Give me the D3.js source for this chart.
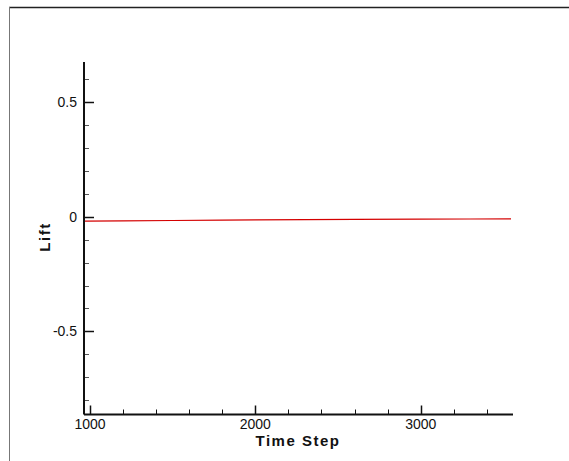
<!DOCTYPE html>
<html>
<head>
<meta charset="utf-8">
<script src="https://cdn.jsdelivr.net/npm/d3@7"></script>
<style>
  body { margin: 0; background: #fff; }
  svg text { font-family: "Liberation Sans", Arial, sans-serif; fill: #111; }
</style>
</head>
<body>
<div id="chart"></div>
<script>
// data
var steps = [970, 1200, 1500, 1800, 2000, 2300, 2600, 3000, 3300, 3546];
var lift = [-0.019, -0.018, -0.016, -0.014, -0.013, -0.012, -0.011, -0.010, -0.0095, -0.009];
var xMajor = [1000, 2000, 3000];
var yMajor = [-0.5, 0, 0.5];

var W = 569, H = 461;
var svg = d3.select("#chart").append("svg").attr("width", W).attr("height", H);

// frame (top + left only)
svg.append("line").attr("x1", 9).attr("x2", W).attr("y1", 7.5).attr("y2", 7.5)
    .attr("stroke", "#222").attr("stroke-width", 1.5);
svg.append("line").attr("x1", 9.5).attr("x2", 9.5).attr("y1", 7).attr("y2", H)
    .attr("stroke", "#777").attr("stroke-width", 1);

var x = d3.scaleLinear().domain([964, 3558]).range([84, 513]);
var y = d3.scaleLinear().domain([-0.863, 0.676]).range([414.5, 62]);

// minor ticks (inward)
var xMinor = d3.range(1200, 3558, 200).filter(function(v){ return xMajor.indexOf(v) < 0; });
var yMinor = d3.range(-8, 7).map(function(v){ return v / 10; })
    .filter(function(v){ return Math.abs(v * 2 - Math.round(v * 2)) > 1e-6; });

var g = svg.append("g");
g.selectAll(".xmin").data(xMinor).enter().append("line")
    .attr("x1", function(d){ return Math.round(x(d)) + 0.5; })
    .attr("x2", function(d){ return Math.round(x(d)) + 0.5; })
    .attr("y1", y.range()[0]).attr("y2", y.range()[0] - 5)
    .attr("stroke", "#111").attr("stroke-width", 1);
g.selectAll(".xmaj").data(xMajor).enter().append("line")
    .attr("x1", function(d){ return Math.round(x(d)) + 0.5; })
    .attr("x2", function(d){ return Math.round(x(d)) + 0.5; })
    .attr("y1", y.range()[0]).attr("y2", y.range()[0] - 9)
    .attr("stroke", "#111").attr("stroke-width", 1.5);
g.selectAll(".ymin").data(yMinor).enter().append("line")
    .attr("y1", function(d){ return Math.round(y(d)) + 0.5; })
    .attr("y2", function(d){ return Math.round(y(d)) + 0.5; })
    .attr("x1", x.range()[0]).attr("x2", x.range()[0] + 5)
    .attr("stroke", "#555").attr("stroke-width", 1);
g.selectAll(".ymaj").data(yMajor).enter().append("line")
    .attr("y1", function(d){ return Math.round(y(d)) + 0.5; })
    .attr("y2", function(d){ return Math.round(y(d)) + 0.5; })
    .attr("x1", x.range()[0]).attr("x2", x.range()[0] + 10)
    .attr("stroke", "#111").attr("stroke-width", 1.5);

// axis lines
svg.append("line").attr("x1", x.range()[0]).attr("x2", x.range()[1])
    .attr("y1", y.range()[0]).attr("y2", y.range()[0])
    .attr("stroke", "#111").attr("stroke-width", 2);
svg.append("line").attr("x1", x.range()[0]).attr("x2", x.range()[0])
    .attr("y1", y.range()[0]).attr("y2", y.range()[1])
    .attr("stroke", "#111").attr("stroke-width", 2);

// tick labels
svg.selectAll(".xl").data(xMajor).enter().append("text")
    .attr("x", function(d){ return x(d); }).attr("y", 429)
    .attr("text-anchor", "middle").style("font-size", "14px")
    .text(function(d){ return d; });
svg.selectAll(".yl").data(yMajor).enter().append("text")
    .attr("x", 77).attr("y", function(d){ return y(d) + 5; })
    .attr("text-anchor", "end").style("font-size", "14px")
    .text(function(d){ return d3.format("")(d).replace("−", "-"); });

// axis titles
svg.append("text").attr("x", 298).attr("y", 446)
    .attr("text-anchor", "middle").style("font-size", "15px").style("font-weight", "bold")
    .style("letter-spacing", "1.5px").text("Time Step");
svg.append("text").attr("transform", "translate(50,237) rotate(-90)")
    .attr("text-anchor", "middle").style("font-size", "15px").style("font-weight", "bold")
    .style("letter-spacing", "1.5px").text("Lift");

// the series
var line = d3.line().x(function(d, i){ return x(steps[i]); }).y(function(d){ return y(d); });
svg.append("path").datum(lift).attr("d", line)
    .attr("fill", "none").attr("stroke", "#d40000").attr("stroke-width", 1.2);
</script>
</body>
</html>
